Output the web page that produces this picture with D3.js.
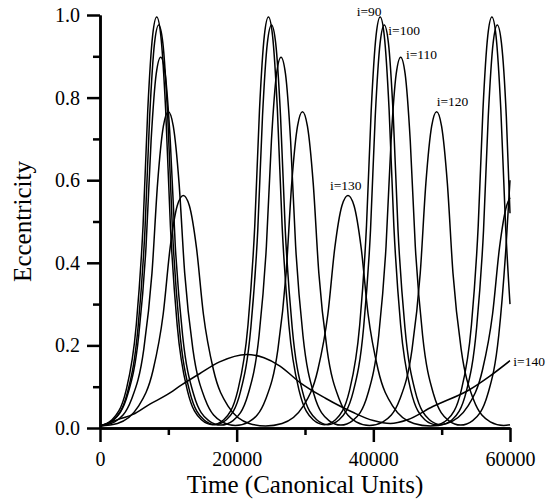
<!DOCTYPE html>
<html>
<head>
<meta charset="utf-8">
<script src="https://cdn.jsdelivr.net/npm/d3@7"></script>
<style>
  body { margin: 0; background: #fff; }
  svg { display: block; }
  text { font-family: "Liberation Serif", "Times New Roman", serif; }
</style>
</head>
<body>
<script>

// eccentricity vs time, one curve per inclination, [time, eccentricity]
var curve90 = [[0,0.005],[1760,0.02],[3800,0.09],[5310,0.25],[6300,0.49],[6990,0.77],[7700,0.95],[8300,0.995],
  [8900,0.95],[9610,0.77],[10300,0.49],[11290,0.25],[12800,0.09],[14840,0.02],[16475,0.008],
  [18110,0.02],[20150,0.09],[21660,0.25],[22650,0.49],[23340,0.77],[24050,0.95],[24650,0.995],
  [25250,0.95],[25960,0.77],[26650,0.49],[27640,0.25],[29150,0.09],[31190,0.02],[32825,0.008],
  [34460,0.02],[36500,0.09],[38010,0.25],[39000,0.49],[39690,0.77],[40400,0.95],[41000,0.995],
  [41600,0.95],[42310,0.77],[43000,0.49],[43990,0.25],[45500,0.09],[47540,0.02],[49175,0.008],
  [50810,0.02],[52850,0.09],[54360,0.25],[55350,0.49],[56040,0.77],[56750,0.95],[57350,0.995],
  [57950,0.95],[58660,0.77],[59350,0.49],[60000,0.30]];

var curve100 = [[0,0.005],[1980,0.02],[4050,0.088],[5570,0.244],[6575,0.478],[7270,0.755],[7980,0.932],[8590,0.976],
  [9200,0.932],[9910,0.755],[10605,0.478],[11610,0.244],[13130,0.088],[15200,0.02],[16845,0.008],
  [18490,0.02],[20560,0.088],[22080,0.244],[23085,0.478],[23780,0.755],[24490,0.932],[25100,0.976],
  [25710,0.932],[26420,0.755],[27115,0.478],[28120,0.244],[29640,0.088],[31710,0.02],[33350,0.008],
  [34990,0.02],[37060,0.088],[38580,0.244],[39585,0.478],[40280,0.755],[40990,0.932],[41600,0.976],
  [42210,0.932],[42920,0.755],[43615,0.478],[44620,0.244],[46140,0.088],[48210,0.02],[49870,0.008],
  [51530,0.02],[53600,0.088],[55120,0.244],[56125,0.478],[56820,0.755],[57530,0.932],[58140,0.976],
  [58750,0.932],[59460,0.755],[60000,0.52]];

var curve110 = [[0,0.005],[1860,0.018],[4050,0.081],[5670,0.224],[6740,0.44],[7475,0.695],[8230,0.858],[8880,0.898],
  [9530,0.858],[10285,0.695],[11020,0.44],[12090,0.224],[13710,0.081],[15900,0.018],[17680,0.007],
  [19470,0.018],[21660,0.081],[23280,0.224],[24350,0.44],[25085,0.695],[25840,0.858],[26490,0.898],
  [27140,0.858],[27895,0.695],[28630,0.44],[29700,0.224],[31320,0.081],[33510,0.018],[35245,0.007],
  [36980,0.018],[39170,0.081],[40790,0.224],[41860,0.44],[42595,0.695],[43350,0.858],[44000,0.898],
  [44650,0.858],[45405,0.695],[46140,0.44],[47210,0.224],[48830,0.081],[51020,0.018],[52780,0.007],
  [54540,0.018],[56730,0.081],[58350,0.224],[59420,0.44],[60000,0.60]];

var curve120 = [[0,0.005],[2150,0.015],[4600,0.069],[6410,0.191],[7605,0.375],[8430,0.593],[9275,0.731],[10000,0.766],
  [10725,0.731],[11570,0.593],[12395,0.375],[13590,0.191],[15400,0.069],[17850,0.015],[19815,0.006],
  [21780,0.015],[24230,0.069],[26040,0.191],[27235,0.375],[28060,0.593],[28905,0.731],[29630,0.766],
  [30355,0.731],[31200,0.593],[32025,0.375],[33220,0.191],[35030,0.069],[37480,0.015],[39445,0.006],
  [41410,0.015],[43860,0.069],[45670,0.191],[46865,0.375],[47690,0.593],[48535,0.731],[49260,0.766],
  [49985,0.731],[50830,0.593],[51655,0.375],[52850,0.191],[54660,0.069],[57110,0.015],[59075,0.006],
  [60000,0.008]];

var curve130 = [[0,0.005],[2550,0.011],[5560,0.051],[7780,0.141],[9250,0.276],[10260,0.436],[11300,0.538],[12190,0.563],
  [13080,0.538],[14120,0.436],[15130,0.276],[16600,0.141],[18820,0.051],[21830,0.011],[24240,0.005],
  [26650,0.011],[29660,0.051],[31880,0.141],[33350,0.276],[34360,0.436],[35400,0.538],[36290,0.563],
  [37180,0.538],[38220,0.436],[39230,0.276],[40700,0.141],[42920,0.051],[45930,0.011],[48340,0.005],
  [50750,0.011],[53760,0.051],[55980,0.141],[57450,0.276],[58460,0.436],[59500,0.538],[60000,0.558]];

var curve140 = [[0,0.005],[2900,0.022],[4830,0.033],[7300,0.058],[9760,0.08],[12000,0.105],[14630,0.132],
  [17500,0.16],[21470,0.178],[24000,0.17],[26340,0.15],[29270,0.11],[33000,0.072],[37000,0.038],
  [40000,0.018],[42500,0.011],[45000,0.02],[48700,0.052],[54000,0.092],[57000,0.125],[60000,0.163]];

var curves = [curve90, curve100, curve110, curve120, curve130, curve140];

var curveNames = ['i=90', 'i=100', 'i=110', 'i=120', 'i=130', 'i=140'];
var labelTime = [37560, 42190, 44780, 49270, 33660, 60480];
var labelEcc = [0.998, 0.952, 0.894, 0.78, 0.576, 0.151];

var xTicks = [0, 20000, 40000, 60000];
var xMinorTicks = [10000, 30000, 50000];
var yTicks = [0, 0.2, 0.4, 0.6, 0.8, 1.0];
var yMinorTicks = [0.1, 0.3, 0.5, 0.7, 0.9];

var width = 556, height = 504;

var svg = d3.select('body')
  .append('svg')
  .attr('width', width)
  .attr('height', height);

var x = d3.scaleLinear().domain([0, 60000]).range([100, 510]);
var y = d3.scaleLinear().domain([0, 1]).range([428, 15]);

var line = d3.line()
  .x(function(d) { return x(d[0]); })
  .y(function(d) { return y(d[1]); })
  .curve(d3.curveMonotoneX);

svg.selectAll('path.ecc')
  .data(curves)
  .enter()
  .append('path')
  .attr('class', 'ecc')
  .attr('d', line)
  .attr('fill', 'none')
  .attr('stroke', '#000')
  .attr('stroke-width', 1.5);

svg.selectAll('text.lab')
  .data(curveNames)
  .enter()
  .append('text')
  .attr('class', 'lab')
  .attr('x', function(d, i) { return x(labelTime[i]); })
  .attr('y', function(d, i) { return y(labelEcc[i]); })
  .attr('font-size', '13.5px')
  .text(function(d) { return d; });

// minor ticks first, then the labelled axes on top
svg.append('g')
  .attr('transform', 'translate(0,428)')
  .call(d3.axisBottom(x).tickValues(xMinorTicks).tickSize(7).tickSizeOuter(0).tickFormat(''));

svg.append('g')
  .attr('transform', 'translate(100,0)')
  .call(d3.axisLeft(y).tickValues(yMinorTicks).tickSize(7).tickSizeOuter(0).tickFormat(''));

var xAxis = svg.append('g')
  .attr('transform', 'translate(0,428)')
  .call(d3.axisBottom(x).tickValues(xTicks).tickSize(14).tickSizeOuter(0).tickPadding(10).tickFormat(d3.format('d')));

var yAxis = svg.append('g')
  .attr('transform', 'translate(100,0)')
  .call(d3.axisLeft(y).tickValues(yTicks).tickSize(13).tickSizeOuter(0).tickPadding(7).tickFormat(d3.format('.1f')));

svg.selectAll('.domain, .tick line')
  .attr('stroke', '#000')
  .attr('stroke-width', 2.5);

svg.selectAll('.tick text')
  .attr('fill', '#000')
  .style('font-family', '"Liberation Serif", "Times New Roman", serif')
  .style('font-size', '20px');

svg.append('text')
  .attr('x', 305)
  .attr('y', 493)
  .attr('text-anchor', 'middle')
  .attr('font-size', '25px')
  .text('Time (Canonical Units)');

svg.append('text')
  .attr('transform', 'translate(31,221.5) rotate(-90)')
  .attr('text-anchor', 'middle')
  .attr('font-size', '25px')
  .text('Eccentricity');

</script>
</body>
</html>
